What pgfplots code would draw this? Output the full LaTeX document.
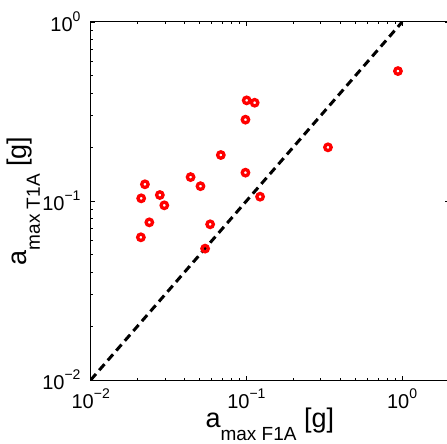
\documentclass[border=0pt]{standalone}
\usepackage{pgfplots}
\pgfplotsset{compat=1.18}
\usepackage{fontspec}
\setmainfont{Liberation Sans}
\newcommand{\tl}[1]{10\raisebox{10pt}{\fontsize{14}{14}\selectfont #1}}
\pgfplotstableread{
x y
0.94 0.532
0.334 0.1995
0.1004 0.365
0.113 0.354
0.0986 0.2847
0.0685 0.1807
0.0986 0.144
0.1224 0.1057
0.0438 0.136
0.0507 0.121
0.0585 0.0741
0.0543 0.0542
0.0223 0.124
0.0211 0.1035
0.0278 0.108
0.0297 0.0946
0.0238 0.076
0.0210 0.0627
}\datatable
\begin{document}
\begin{tikzpicture}
\begin{loglogaxis}[
  scale only axis, width=358.3pt, height=358pt,
  xmin=0.01, xmax=2, ymin=0.01, ymax=1,
  xtick={0.01,0.1,1}, ytick={0.01,0.1,1},
  xticklabels={\tl{−2},\tl{−1},\tl{0}},
  yticklabels={\tl{−2},\tl{−1},\tl{0}},
  minor xtick={0.02,0.03,0.04,0.05,0.06,0.07,0.08,0.09,0.2,0.3,0.4,0.5,0.6,0.7,0.8,0.9,2},
  minor ytick={0.02,0.03,0.04,0.05,0.06,0.07,0.08,0.09,0.2,0.3,0.4,0.5,0.6,0.7,0.8,0.9},
  tick align=inside, major tick length=4pt, minor tick length=2.5pt,
  every tick/.style={black, line width=0.8pt},
  axis line style={black, line width=1pt},
  xticklabel style={font=\fontsize{20}{20}\selectfont, anchor=base, inner sep=0pt, yshift=-28pt},
  yticklabel style={font=\fontsize{20}{20}\selectfont, anchor=east, inner sep=0pt, xshift=-10pt},
  xlabel={a\raisebox{-13pt}{\fontsize{19}{19}\selectfont max F1A} [g]},
  ylabel={a\raisebox{-13pt}{\fontsize{19}{19}\selectfont max T1A} [g]},
  label style={font=\fontsize{27}{27}\selectfont},
  xlabel style={at={(axis description cs:0.5,-0.134)}, anchor=base},
  ylabel style={at={(axis description cs:-0.178,0.5)}, anchor=base},
]
\addplot[black, line width=3pt, dash pattern=on 8pt off 5pt] coordinates {(0.01,0.01) (1,1)};
\addplot[only marks, mark=o, mark size=3.2pt, red, mark options={line width=3.3pt, draw=red}] table[x=x,y=y] {\datatable};
\end{loglogaxis}
\pgfresetboundingbox
\path[use as bounding box] ([xshift=-90.7pt,yshift=-64pt]current axis.south west) rectangle ([xshift=-2pt,yshift=22pt]current axis.north east);
\end{tikzpicture}
\end{document}
